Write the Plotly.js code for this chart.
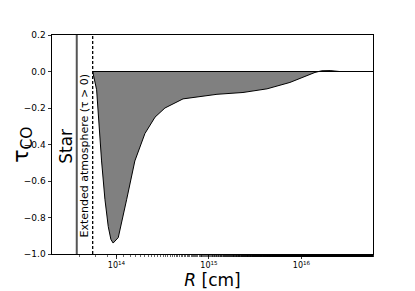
<!DOCTYPE html>
<html>
<head>
<meta charset="utf-8">
<script src="https://cdn.plot.ly/plotly-3.0.1.min.js"></script>
<style>html,body{margin:0;padding:0;background:#fff}#chart{width:415px;height:291px}</style>
</head>
<body>
<div id="chart"></div>
<script>
// Radius (cm) and CO optical depth
var radius = [5.53e13, 6.1e13, 6.9e13, 7.5e13, 8.15e13, 8.7e13, 9.2e13, 1.045e14, 1.29e14, 1.58e14, 2.03e14, 2.61e14, 3.34e14, 5.24e14, 1.22e15, 2.33e15, 4.24e15, 7.5e15, 1.4e16, 1.66e16, 2.04e16, 2.57e16, 5.93e16];
var tau    = [0.0, -0.10, -0.49, -0.70, -0.85, -0.92, -0.94, -0.91, -0.70, -0.49, -0.34, -0.25, -0.20, -0.15, -0.125, -0.115, -0.095, -0.06, -0.005, 0.004, 0.005, 0.0, 0.0];
var starRadius = 3.72e13;
var atmosphereEdge = 5.53e13;
var xTickVals = [1e14, 1e15, 1e16];
var xTickText = ['10<sup>14</sup>', '10<sup>15</sup>', '10<sup>16</sup>'];
var yTickVals = [0.2, 0.0, -0.2, -0.4, -0.6, -0.8, -1.0];

var rMax = Math.pow(10, 16.773);
var traces = [
  {x: radius, y: tau, type: 'scatter', mode: 'lines', fill: 'tozeroy',
   fillcolor: 'rgb(128,128,128)', line: {color: '#000', width: 1}, hoverinfo: 'skip'},
  {x: [atmosphereEdge, rMax], y: [0, 0], type: 'scatter', mode: 'lines',
   line: {color: '#000', width: 1.2}, hoverinfo: 'skip'}
];
var layout = {
  width: 415, height: 291,
  margin: {l: 52, r: 42, t: 35, b: 37},
  paper_bgcolor: '#fff', plot_bgcolor: '#fff',
  showlegend: false,
  font: {family: 'DejaVu Sans', color: '#000', size: 9},
  xaxis: {
    type: 'log', range: [13.303, 16.773],
    tickvals: xTickVals, ticktext: xTickText,
    ticks: 'outside', ticklen: 3.5, tickwidth: 0.8, tickcolor: '#000',
    minor: {ticks: 'outside', ticklen: 2, tickwidth: 0.6, tickcolor: '#000'},
    showgrid: false, zeroline: false,
    showline: true, linecolor: '#000', linewidth: 1, mirror: true,
    tickfont: {size: 8},
    title: {text: '<i>R</i> [cm]', font: {size: 17}, standoff: 4}
  },
  yaxis: {
    range: [-1.0, 0.2],
    tickvals: yTickVals, tickformat: '.1f',
    ticks: 'outside', ticklen: 3.5, tickwidth: 0.8, tickcolor: '#000',
    showgrid: false, zeroline: false,
    showline: true, linecolor: '#000', linewidth: 1, mirror: true,
    tickfont: {size: 9}
  },
  shapes: [
    {type: 'line', xref: 'x', yref: 'paper', x0: starRadius, x1: starRadius, y0: 0, y1: 1,
     line: {color: '#555', width: 2}},
    {type: 'line', xref: 'x', yref: 'paper', x0: atmosphereEdge, x1: atmosphereEdge, y0: 0, y1: 1,
     line: {color: '#000', width: 1.3, dash: '3px,2px'}}
  ],
  annotations: [
    {text: 'τ<sub>CO</sub>', xref: 'paper', yref: 'paper', x: -0.093, y: 0.5, showarrow: false,
     textangle: -90, font: {size: 22, family: 'DejaVu Sans'}, xanchor: 'center', yanchor: 'middle'},
    {text: 'Star', xref: 'paper', yref: 'paper', x: 0.044, y: 0.49, showarrow: false,
     textangle: -90, font: {size: 17, family: 'DejaVu Sans'}, xanchor: 'center', yanchor: 'middle'},
    {text: 'Extended atmosphere (τ > 0)', xref: 'paper', yref: 'paper', x: 0.1, y: 0.45, showarrow: false,
     textangle: -90, font: {size: 11, family: 'DejaVu Sans'}, xanchor: 'center', yanchor: 'middle'}
  ]
};
Plotly.newPlot('chart', traces, layout, {displayModeBar: false, staticPlot: true});
</script>
</body>
</html>
